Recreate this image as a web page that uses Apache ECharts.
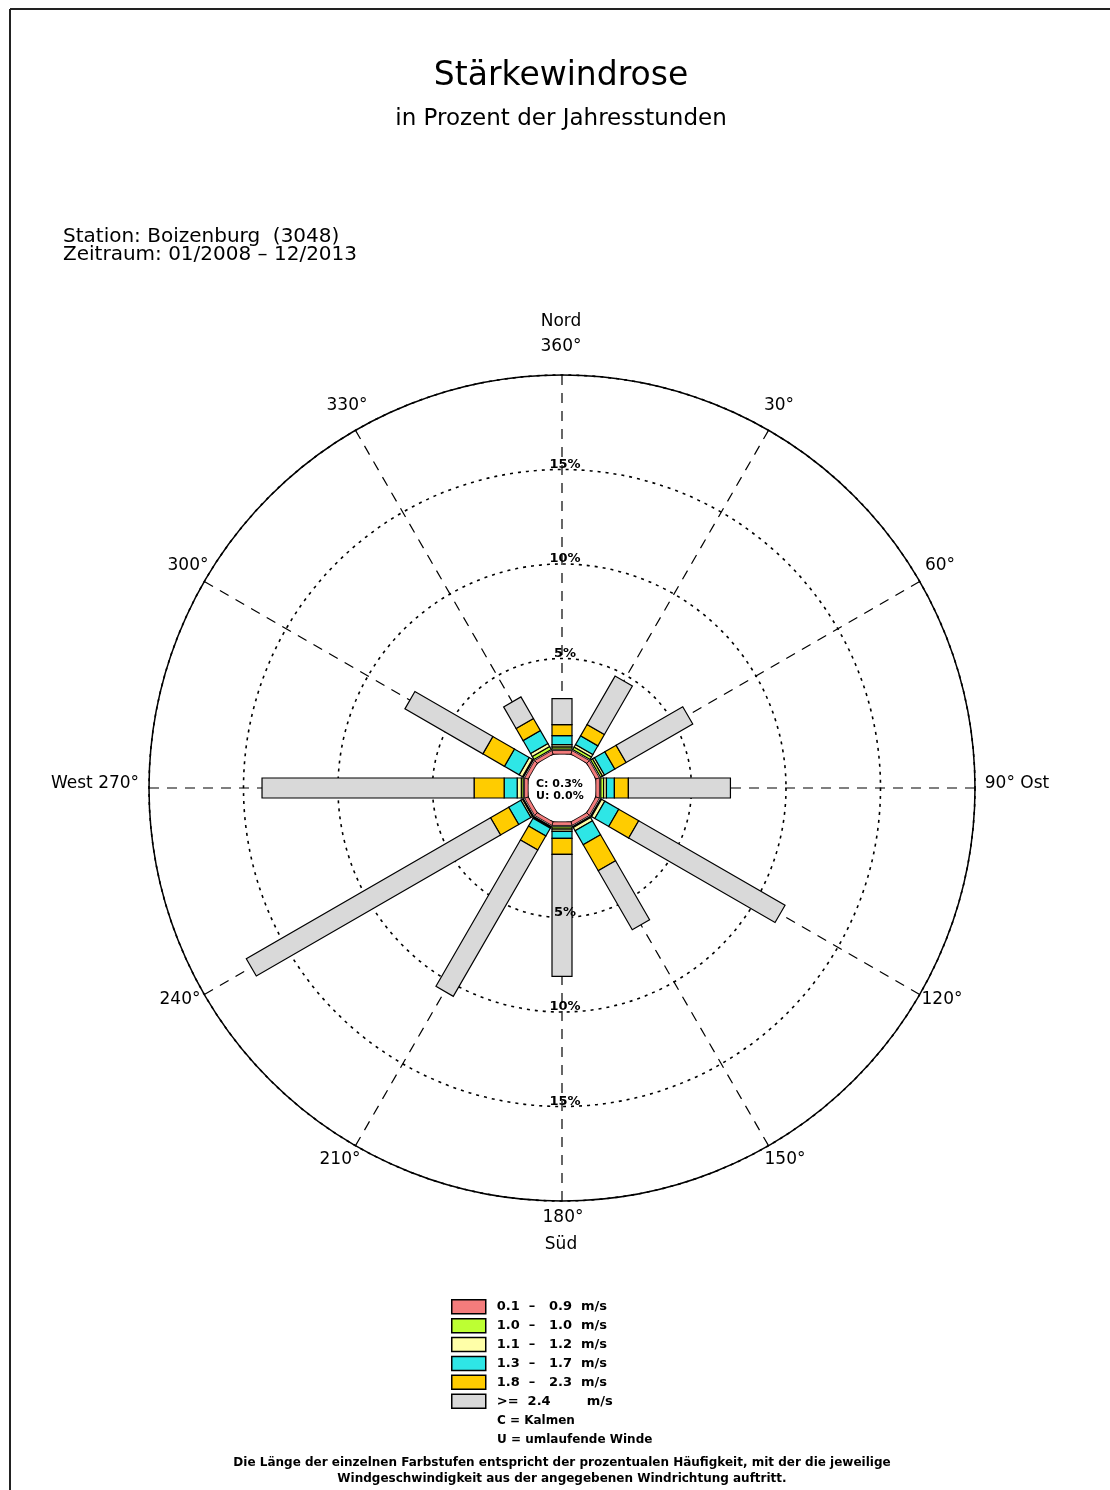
<!DOCTYPE html>
<html>
<head>
<meta charset="utf-8">
<script src="https://cdn.jsdelivr.net/npm/echarts@6/dist/echarts.min.js"></script>
<style>
html,body{margin:0;padding:0;background:#fff;}
#chart{width:1110px;height:1490px;}
</style>
</head>
<body>
<div id="chart"></div>
<script>
// ---- data (percent of annual hours) ----
const directions = [0, 30, 60, 90, 120, 150, 180, 210, 240, 270, 300, 330];
const speedClasses = ['0.1  –   0.9  m/s', '1.0  –   1.0  m/s', '1.1  –   1.2  m/s', '1.3  –   1.7  m/s', '1.8  –   2.3  m/s', '>=  2.4        m/s'];
const red    = [0.2, 0.2, 0.2, 0.2, 0.2, 0.2, 0.2, 0.2, 0.2, 0.2, 0.2, 0.2];
const green  = [0.12, 0.15, 0.12, 0.15, 0.06, 0.06, 0.12, 0.05, 0.06, 0.10, 0.06, 0.18];
const yellow = [0.12, 0.15, 0.12, 0.15, 0.20, 0.20, 0.12, 0.05, 0.10, 0.22, 0.20, 0.18];
const cyan   = [0.48, 0.53, 0.63, 0.42, 0.85, 0.85, 0.37, 0.48, 0.74, 0.69, 0.90, 0.79];
const orange = [0.58, 0.69, 0.69, 0.74, 1.22, 1.59, 0.85, 0.85, 1.11, 1.59, 1.32, 0.74];
const gray   = [1.38, 2.96, 4.07, 5.40, 8.94, 3.60, 6.46, 8.94, 14.92, 11.22, 4.76, 1.32];
const ringTicks = [5, 10, 15];
const calmText = 'C: 0.3%';
const variableText = 'U: 0.0%';

const colors = ['#F47C7C', '#BDFF33', '#FFFFA8', '#2EE6E6', '#FFCC00', '#D9D9D9'];
const classValues = [red, green, yellow, cyan, orange, gray];

const FONT = '"DejaVu Sans", "Liberation Sans", sans-serif';
const HALF = 10;

// build stacked segments
const cum = directions.map(() => 0);
const segData = classValues.map(vals => vals.map((v, i) => {
  const s = cum[i]; cum[i] += v;
  return [s, directions[i], cum[i]];
}));

function ringItem(params, api) {
  const s = api.value(0), a = api.value(1), e = api.value(2);
  const pts = [api.coord([s, a - 15]), api.coord([e, a - 15]), api.coord([e, a + 15]), api.coord([s, a + 15])];
  return {type: 'polygon', shape: {points: pts}, style: {fill: api.visual('color'), stroke: '#000', lineWidth: 0.8}};
}
function barItem(params, api) {
  const cs = params.coordSys;
  const s = api.value(0), a = api.value(1), e = api.value(2);
  const p0 = api.coord([s, a]), p1 = api.coord([e, a]);
  let ux = p1[0] - cs.cx, uy = p1[1] - cs.cy;
  const L = Math.hypot(ux, uy) || 1; ux /= L; uy /= L;
  const nx = -uy * HALF, ny = ux * HALF;
  return {
    type: 'polygon',
    shape: {points: [[p0[0] + nx, p0[1] + ny], [p1[0] + nx, p1[1] + ny], [p1[0] - nx, p1[1] - ny], [p0[0] - nx, p0[1] - ny]]},
    style: {fill: api.visual('color'), stroke: '#000', lineWidth: 1.2}
  };
}

const series = speedClasses.map((name, k) => ({
  name: name,
  type: 'custom',
  coordinateSystem: 'polar',
  encode: {radius: 0, angle: 1},
  itemStyle: {color: colors[k], borderColor: '#000', borderWidth: 1.2},
  renderItem: k === 0 ? ringItem : barItem,
  data: segData[k],
  silent: true,
  z: 3
}));

// ring labels on north and south spokes
const ringLabelData = [];
ringTicks.forEach(t => { ringLabelData.push([t, 0]); ringLabelData.push([t, 180]); });
series.push({
  type: 'custom',
  coordinateSystem: 'polar',
  encode: {radius: 0, angle: 1},
  silent: true,
  z: 4,
  data: ringLabelData,
  renderItem: function (params, api) {
    const p = api.coord([api.value(0), api.value(1)]);
    return {type: 'text', x: p[0] + 3, y: p[1] - 5, style: {text: api.value(0) + '%', fill: '#000', font: 'bold 13px ' + FONT, textAlign: 'center', textVerticalAlign: 'middle'}};
  }
});

function txt(x, y, text, size, opts) {
  opts = opts || {};
  return {type: 'text', x: x, y: y, z: 10, style: {text: text, fill: '#000', font: (opts.weight || 'normal') + ' ' + size + 'px ' + FONT, textAlign: opts.align || 'center', textVerticalAlign: 'middle'}};
}

const graphics = [
  {type: 'line', shape: {x1: 10, y1: 9, x2: 1110, y2: 9}, style: {stroke: '#222', lineWidth: 2}},
  {type: 'line', shape: {x1: 10, y1: 9, x2: 10, y2: 1490}, style: {stroke: '#222', lineWidth: 2}},
  txt(561, 76, 'Stärkewindrose', 33),
  txt(561, 119, 'in Prozent der Jahresstunden', 23),
  txt(63, 237, 'Station: Boizenburg  (3048)', 20, {align: 'left'}),
  txt(63, 255, 'Zeitraum: 01/2008 – 12/2013', 20, {align: 'left'}),
  txt(561, 322, 'Nord', 17), txt(561, 347, '360°', 17),
  txt(779, 406, '30°', 17),
  txt(940, 566, '60°', 17),
  txt(1017, 784, '90° Ost', 17),
  txt(942, 1000, '120°', 17),
  txt(785, 1160, '150°', 17),
  txt(563, 1218, '180°', 17), txt(561, 1245, 'Süd', 17),
  txt(340, 1160, '210°', 17),
  txt(180, 1000, '240°', 17),
  txt(95, 784, 'West 270°', 17),
  txt(188, 566, '300°', 17),
  txt(347, 406, '330°', 17),
  txt(536, 784, calmText, 11, {align: 'left', weight: 'bold'}),
  txt(536, 796, variableText, 11, {align: 'left', weight: 'bold'}),
  txt(497, 1421, 'C = Kalmen', 12, {align: 'left', weight: 'bold'}),
  txt(497, 1440, 'U = umlaufende Winde', 12, {align: 'left', weight: 'bold'}),
  txt(562, 1463, 'Die Länge der einzelnen Farbstufen entspricht der prozentualen Häufigkeit, mit der die jeweilige', 12, {weight: 'bold'}),
  txt(562, 1479, 'Windgeschwindigkeit aus der angegebenen Windrichtung auftritt.', 12, {weight: 'bold'})
];

const chart = echarts.init(document.getElementById('chart'), null, {renderer: 'canvas'});
chart.setOption({
  backgroundColor: '#fff',
  animation: false,
  polar: {center: [562, 788], radius: [35, 413]},
  angleAxis: {
    type: 'value', min: 0, max: 360, interval: 30, startAngle: 90, clockwise: true,
    axisLine: {show: true, lineStyle: {color: '#000', width: 1.5}},
    axisTick: {show: false}, axisLabel: {show: false},
    splitLine: {show: true, lineStyle: {color: '#000', width: 1.2, type: [10, 8]}}
  },
  radiusAxis: {
    type: 'value', min: 0, max: 20, interval: 5,
    axisLine: {show: false}, axisTick: {show: false}, axisLabel: {show: false},
    splitLine: {show: true, lineStyle: {color: '#000', width: 1.6, type: [3, 5]}}
  },
  legend: {
    data: speedClasses, orient: 'vertical', left: 446, top: 1294,
    itemWidth: 34, itemHeight: 14, itemGap: 3.4, icon: 'rect', selectedMode: false,
    itemStyle: {borderColor: '#000', borderWidth: 1.5},
    textStyle: {fontFamily: FONT, fontWeight: 'bold', fontSize: 13, color: '#000', padding: [0, 0, 0, 6], lineHeight: 14}
  },
  graphic: graphics,
  series: series
});
</script>
</body>
</html>
